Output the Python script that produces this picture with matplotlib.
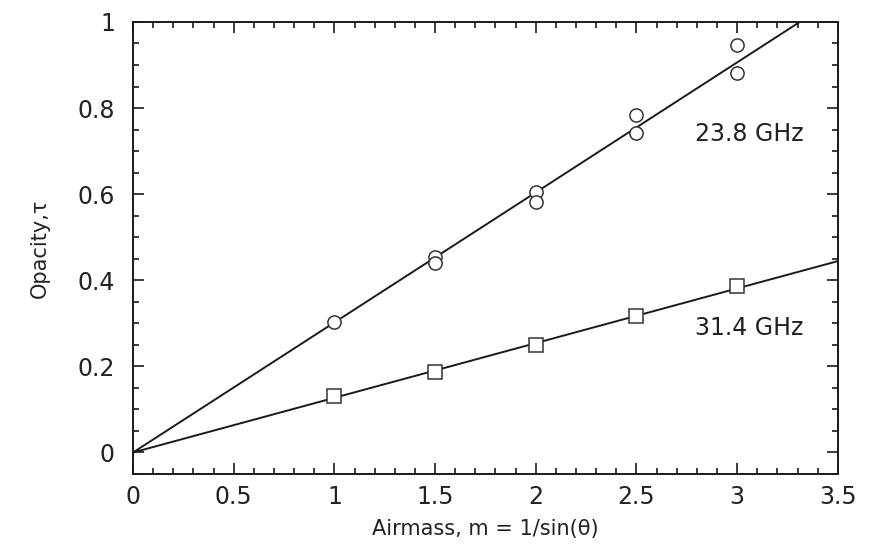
import matplotlib
matplotlib.use("Agg")
import matplotlib.pyplot as plt
import numpy as np
from matplotlib.ticker import MultipleLocator

plt.rcParams['font.family'] = ['DejaVu Sans']

# 23.8 GHz measurements (circles)
x_238 = [1.0, 1.5, 1.5, 2.0, 2.0, 2.5, 2.5, 3.0, 3.0]
tau_238 = [0.304, 0.454, 0.440, 0.606, 0.582, 0.783, 0.743, 0.946, 0.881]
slope_238 = 0.302

# 31.4 GHz measurements (squares)
x_314 = [1.0, 1.5, 2.0, 2.5, 3.0]
tau_314 = [0.132, 0.187, 0.250, 0.318, 0.387]
slope_314 = 0.127

fit_x = [0.0, 3.5]

fig = plt.figure(figsize=(8.81, 5.48), dpi=100)
ax = fig.add_axes([0.151, 0.135, 0.800, 0.825])

ax.plot(fit_x, [slope_238 * v for v in fit_x], color='#1a1a1a', lw=1.4, zorder=2)
ax.plot(fit_x, [slope_314 * v for v in fit_x], color='#1a1a1a', lw=1.4, zorder=2)
ax.plot(x_238, tau_238, 'o', ms=9.5, mfc='white', mec='#333333', mew=1.1, ls='none', zorder=3)
ax.plot(x_314, tau_314, 's', ms=9.5, mfc='white', mec='#333333', mew=1.1, ls='none', zorder=3)

ax.text(3.06, 0.740, '23.8 GHz', fontsize=17, ha='center', va='center', color='#222222')
ax.text(3.06, 0.288, '31.4 GHz', fontsize=17, ha='center', va='center', color='#222222')

ax.set_xlim(0, 3.5)
ax.set_ylim(-0.05, 1.0)
ax.set_xticks([0, 0.5, 1, 1.5, 2, 2.5, 3, 3.5])
ax.set_xticklabels(['0', '0.5', '1', '1.5', '2', '2.5', '3', '3.5'])
ax.set_yticks([0, 0.2, 0.4, 0.6, 0.8, 1.0])
ax.set_yticklabels(['0', '0.2', '0.4', '0.6', '0.8', '1'])
ax.xaxis.set_minor_locator(MultipleLocator(0.1))
ax.yaxis.set_minor_locator(MultipleLocator(0.05))
ax.tick_params(which='both', direction='in', top=True, right=True, width=1.2, colors='#1a1a1a',
               labelsize=17, labelcolor='#222222')
ax.tick_params(which='major', length=8)
ax.tick_params(axis='x', which='major', pad=8)
ax.tick_params(axis='y', which='major', pad=13)
ax.tick_params(which='minor', length=4)
for s in ax.spines.values():
    s.set_linewidth(1.4)
    s.set_color('#1a1a1a')

ax.set_xlabel('Airmass, m = 1/sin(θ)', fontsize=15, color='#222222', labelpad=7)
ax.set_ylabel('Opacity,τ', fontsize=15, color='#222222', labelpad=20)

fig.savefig('out.png', dpi=100)
